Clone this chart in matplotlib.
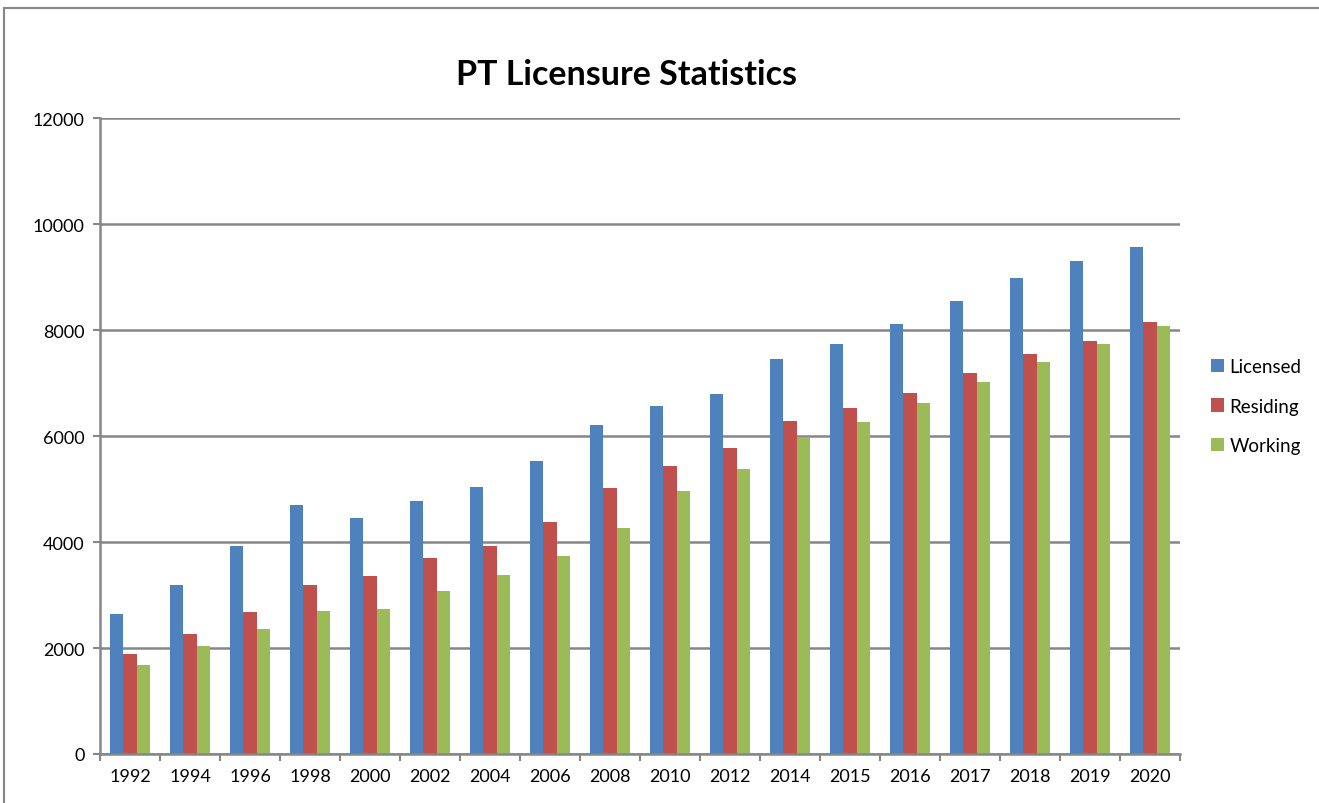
import numpy as np
import matplotlib.pyplot as plt
from matplotlib.patches import Rectangle

years = ["1992", "1994", "1996", "1998", "2000", "2002", "2004", "2006", "2008",
         "2010", "2012", "2014", "2015", "2016", "2017", "2018", "2019", "2020"]
licensed = [2650, 3190, 3930, 4690, 4460, 4770, 5030, 5520, 6200,
            6570, 6790, 7460, 7740, 8120, 8540, 8990, 9300, 9560]
residing = [1880, 2260, 2680, 3190, 3350, 3690, 3930, 4370, 5010,
            5430, 5770, 6280, 6530, 6810, 7180, 7540, 7800, 8160]
working = [1680, 2040, 2360, 2700, 2740, 3080, 3380, 3740, 4270,
           4960, 5370, 5960, 6260, 6620, 7010, 7400, 7740, 8070]

series = [("Licensed", licensed, "#4F81BD"),
          ("Residing", residing, "#C0504D"),
          ("Working", working, "#9BBB59")]

plt.rcParams['font.family'] = ['Lato', 'DejaVu Sans']

fig = plt.figure(figsize=(13.19, 8.04), dpi=100)
ax = fig.add_axes([100 / 1319, 1 - 755 / 804, 1080 / 1319, 636 / 804])

# outer chart frame
fig.patches.append(Rectangle((4 / 1319, -0.01), 1.02, 1 - 9 / 804 + 0.01,
                             transform=fig.transFigure, fill=False,
                             edgecolor="#868686", linewidth=1.5))

x = np.arange(len(years))
w = 0.222
for i, (name, vals, col) in enumerate(series):
    ax.bar(x + (i - 1) * w, vals, width=w, color=col, label=name, zorder=3)

ax.set_xlim(-0.5, len(years) - 0.5)
ax.set_ylim(0, 12000)
ax.set_yticks(range(0, 12001, 2000))
ax.yaxis.grid(True, color="#868686", linewidth=1.8, zorder=0)

ax.set_xticks(x)
ax.set_xticklabels(years, fontsize=13)
ax.set_xticks(np.arange(-0.5, len(years), 1), minor=True)
ax.tick_params(axis="x", which="major", length=0, pad=10)
ax.tick_params(axis="x", which="minor", length=5, width=1.5, color="#868686")
ax.tick_params(axis="y", length=5, width=1.5, color="#868686", labelsize=13, pad=6)

for s in ["top", "right"]:
    ax.spines[s].set_visible(False)
for s in ["left", "bottom"]:
    ax.spines[s].set_color("#868686")
    ax.spines[s].set_linewidth(1.8)
    ax.spines[s].set_zorder(4)

fig.text(626 / 1319, 1 - 75 / 804, "PT Licensure Statistics", ha="center",
         va="center", fontsize=24.5, fontweight="bold")

ax.legend(loc="center left", bbox_to_anchor=(1.013, 0.547), frameon=False,
          fontsize=13.5, handlelength=0.7, handleheight=0.7, handletextpad=0.3,
          labelspacing=1.2)

fig.savefig("out.png", dpi=100)
